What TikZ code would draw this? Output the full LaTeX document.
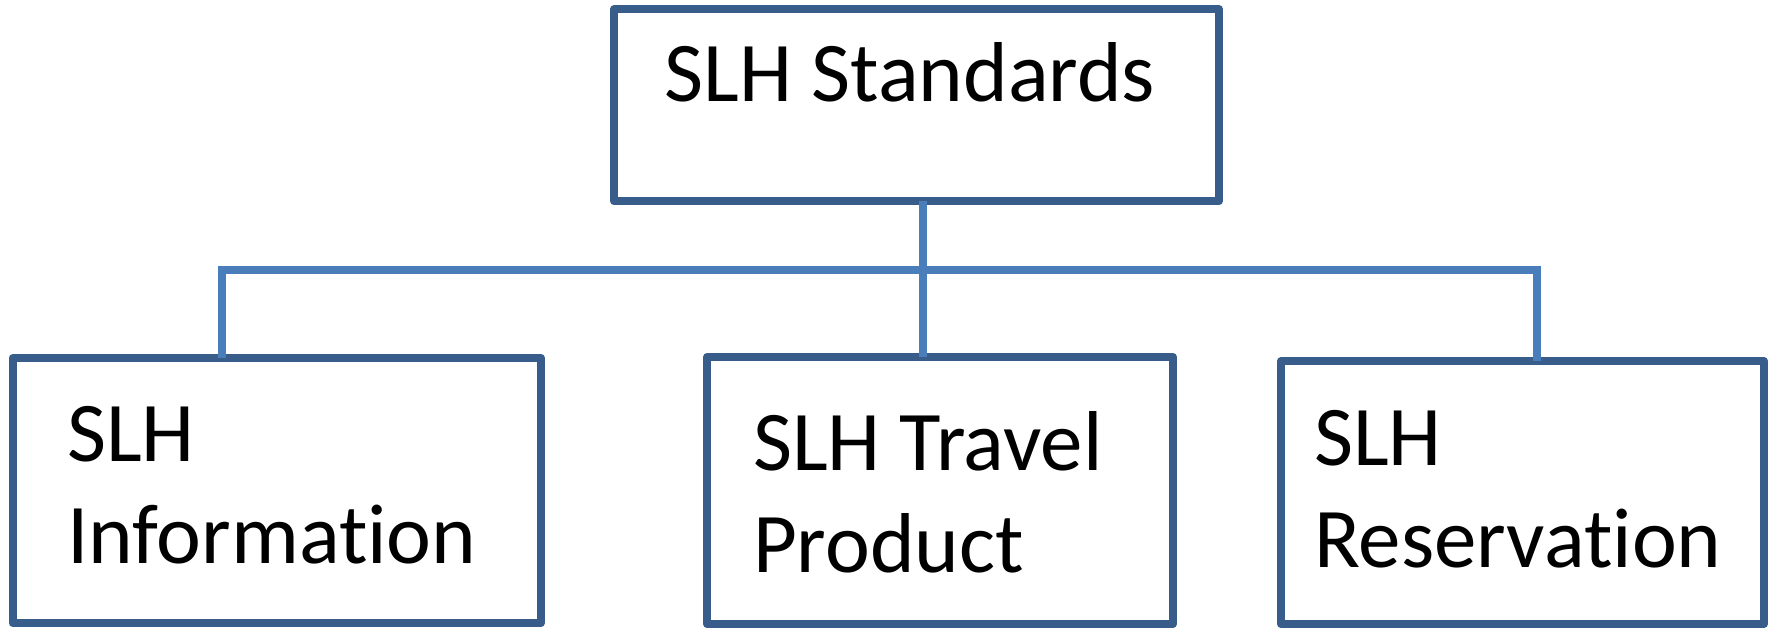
\documentclass[tikz,border=0pt]{standalone}
\usepackage{fontspec}
\setmainfont{Carlito}[Ligatures={NoCommon}]
\definecolor{boxline}{RGB}{56,93,138}
\definecolor{connline}{RGB}{74,126,187}
\begin{document}
\begin{tikzpicture}[x=1pt,y=-1pt,
  orgbox/.style={draw=boxline,line width=8pt,line join=round,rectangle,inner sep=0pt,outer sep=0pt,fill=white},
  conn/.style={draw=connline,line width=7.5pt},
  lbl/.style={inner sep=0pt,outer sep=0pt,font=\fontsize{85}{104}\selectfont,text=black}]
\useasboundingbox (0,0) rectangle (1771,628);
\fill[white] (0,0) rectangle (1771,628);
% boxes
\node[orgbox,minimum width=605pt,minimum height=192pt] (top) at (916.5,105.3) {};
\node[orgbox,minimum width=528.5pt,minimum height=265pt] (left) at (276.75,490.5) {};
\node[orgbox,minimum width=466pt,minimum height=267pt] (mid) at (940,490.5) {};
\node[orgbox,minimum width=483pt,minimum height=263pt] (right) at (1522.5,492.5) {};
% connector geometry
\coordinate (j) at (923,270);
\coordinate (cl) at (222,270);
\coordinate (cr) at (1537,270);
\draw[conn] (top.south -| j) -- (mid.north -| j);
\draw[conn] (left.north -| cl) -- (cl) -- (cr) -- (right.north -| cr);
% labels
\node[lbl,anchor=base] (t0) at (910,102) {SLH Standards};
\node[lbl,anchor=base west] (l1) at (67,461) {SLH};
\node[lbl,anchor=base west] (l2) at (67,563) {Information};
\node[lbl,anchor=base west] (m1) at (753,470) {SLH Travel};
\node[lbl,anchor=base west] (m2) at (753,572) {Product};
\node[lbl,anchor=base west] (r1) at (1314,465) {SLH};
\node[lbl,anchor=base west] (r2) at (1314,567) {Reservation};
\end{tikzpicture}
\end{document}
